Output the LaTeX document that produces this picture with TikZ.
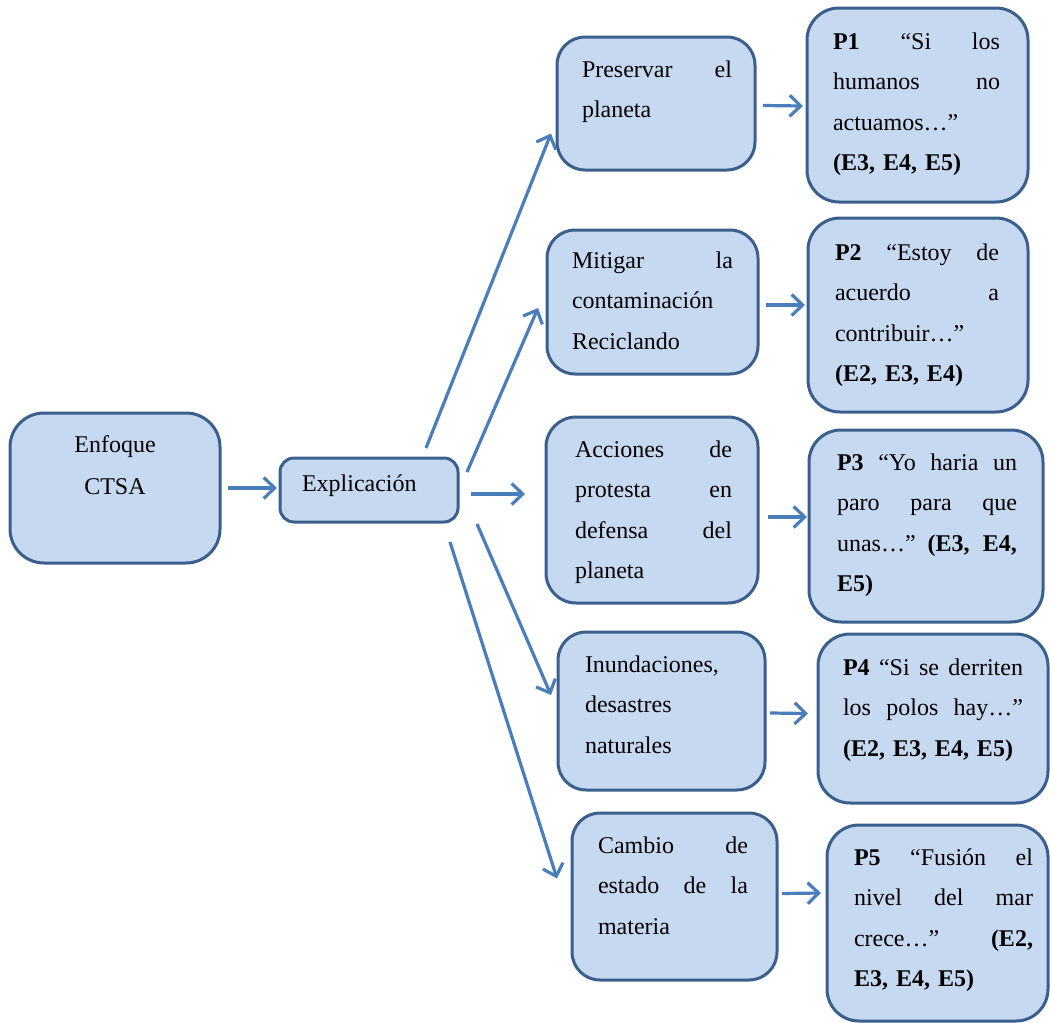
\documentclass[tikz,border=0pt]{standalone}
\usepackage{fontspec}
\setmainfont{Liberation Serif}
\usetikzlibrary{arrows.meta}

\definecolor{boxfill}{HTML}{C6D9F1}
\definecolor{boxline}{HTML}{3A5F8D}
\definecolor{arrowblue}{HTML}{4A7EBB}

% width of the justified lines of the current text node
\newlength{\jlw}
% one justified line: interword spaces stretch to fill \jlw
\newcommand{\jline}[1]{\leavevmode\hbox to\jlw{\spaceskip=0.25em plus 1fil\relax #1}}

\begin{document}
\begin{tikzpicture}[x=1pt,y=-1pt,
  box/.style={draw=boxline,fill=boxfill,line width=3pt,anchor=north west,
              inner sep=0pt,outer sep=0pt},
  txt/.style={inner sep=0pt,outer sep=0pt,anchor=base west,align=left,
              font=\fontsize{24}{40.5}\selectfont},
  tw/.style={text width=#1,execute at begin node={\setlength{\jlw}{#1}}},
  arr/.style={draw=arrowblue,line width=3.2pt,
              -{Straight Barb[length=11pt,width=21pt]}}]

\useasboundingbox (0,0) rectangle (1050,1023);

% ---- boxes ----
\node[box,minimum width=210pt,minimum height=150pt,rounded corners=34pt] (enf) at (10,413) {};
\node[box,minimum width=178pt,minimum height=64pt,rounded corners=14pt] (expl) at (280,458) {};

\node[box,minimum width=198pt,minimum height=133pt,rounded corners=28pt] (pres) at (557,37) {};
\node[box,minimum width=211pt,minimum height=144pt,rounded corners=28pt] (mitig) at (547,230) {};
\node[box,minimum width=212pt,minimum height=186pt,rounded corners=30pt] (acc) at (546,417) {};
\node[box,minimum width=207pt,minimum height=158pt,rounded corners=28pt] (inund) at (558,632) {};
\node[box,minimum width=205pt,minimum height=167pt,rounded corners=28pt] (camb) at (572,813) {};

\node[box,minimum width=221pt,minimum height=194pt,rounded corners=32pt] (p1) at (807,8) {};
\node[box,minimum width=220pt,minimum height=194pt,rounded corners=32pt] (p2) at (808,218) {};
\node[box,minimum width=234pt,minimum height=192pt,rounded corners=32pt] (p3) at (809,430) {};
\node[box,minimum width=230pt,minimum height=169pt,rounded corners=32pt] (p4) at (818,634) {};
\node[box,minimum width=221pt,minimum height=196pt,rounded corners=32pt] (p5) at (827,825) {};

% ---- texts ----
\node[txt,anchor=base,align=center,text width=180pt,
      font=\fontsize{24}{42}\selectfont] (enf-t) at (115,452) {Enfoque\\CTSA};
\node[txt] (expl-t) at (302,491) {Explicación};

\node[txt,tw=150pt] (pres-t) at (582,77)
  {\jline{Preservar el}\\planeta};
\node[txt,tw=161pt] (mitig-t) at (572,268)
  {\jline{Mitigar la}\\contaminación\\Reciclando};
\node[txt,tw=157pt] (acc-t) at (575,457)
  {\jline{Acciones de}\\\jline{protesta en}\\\jline{defensa del}\\planeta};
\node[txt,tw=150pt] (inund-t) at (585,672)
  {Inundaciones,\\desastres\\naturales};
\node[txt,tw=150pt] (camb-t) at (598,853)
  {\jline{Cambio de}\\\jline{estado de la}\\materia};

\node[txt,tw=167pt] (p1-t) at (833,49)
  {\jline{\textbf{P1} “Si los}\\\jline{humanos no}\\actuamos…”\\
   \textbf{(E3, E4, E5)}};
\node[txt,tw=164pt] (p2-t) at (835,260)
  {\jline{\textbf{P2} “Estoy de}\\\jline{acuerdo a}\\contribuir…”\\
   \textbf{(E2, E3, E4)}};
\node[txt,tw=180pt] (p3-t) at (837,470)
  {\jline{\textbf{P3} “Yo haria un}\\\jline{paro para que}\\
   \jline{unas…” \textbf{(E3, E4,}}\\\textbf{E5)}};
\node[txt,tw=180pt] (p4-t) at (843,675)
  {\jline{\textbf{P4} “Si se derriten}\\\jline{los polos hay…”}\\
   \textbf{(E2, E3, E4, E5)}};
\node[txt,tw=179pt] (p5-t) at (854,865)
  {\jline{\textbf{P5} “Fusión el}\\\jline{nivel del mar}\\
   \jline{crece…” \textbf{(E2,}}\\\textbf{E3, E4, E5)}};

% ---- connectors ----
\draw[arr] ([shift={(8,0)}]enf.east) -- ([shift={(-3,-2)}]expl.west);

\draw[arr] ([shift={(-32,-10)}]expl.north east) -- ([shift={(-6,30)}]pres.west);
\draw[arr] ([shift={(9,-18)}]expl.east) -- ([shift={(-9,6)}]mitig.west);
\draw[arr] ([shift={(13,4)}]expl.east) -- ([shift={(-21,-16)}]acc.west);
\draw[arr] ([shift={(19,2)}]expl.south east) -- ([shift={(-7,-16)}]inund.west);
\draw[arr] ([shift={(-8,20)}]expl.south east) -- ([shift={(-15,-18)}]camb.west);

\draw[arr] ([shift={(8,2)}]pres.east) -- ([shift={(-4,1)}]p1.west);
\draw[arr] ([shift={(8,3)}]mitig.east) -- ([shift={(-3,-10)}]p2.west);
\draw[arr] ([shift={(10,7)}]acc.east) -- ([shift={(-2,-9)}]p3.west);
\draw[arr] ([shift={(5,2)}]inund.east) -- ([shift={(-10,-5)}]p4.west);
\draw[arr] ([shift={(5,-3)}]camb.east) -- ([shift={(-6,-30)}]p5.west);
\end{tikzpicture}
\end{document}
